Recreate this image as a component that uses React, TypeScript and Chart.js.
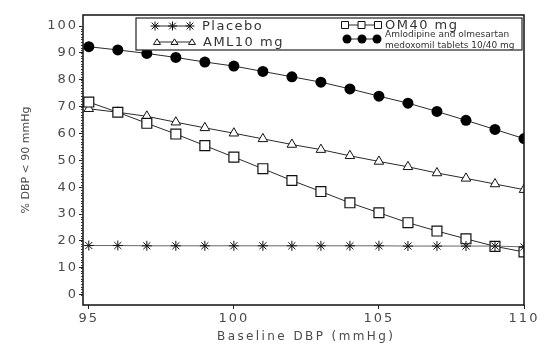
import React, { useEffect, useRef } from 'react';
import { Chart, registerables } from 'chart.js';

Chart.register(...registerables);

const baselineDBP = [95, 96, 97, 98, 99, 100, 101, 102, 103, 104, 105, 106, 107, 108, 109, 110];
const placeboPct = [18.3, 18.3, 18.2, 18.2, 18.2, 18.2, 18.2, 18.2, 18.2, 18.2, 18.2, 18.1, 18.1, 18.1, 18.1, 17.8];
const om40Pct = [71.7, 67.9, 63.8, 59.8, 55.5, 51.2, 46.9, 42.5, 38.4, 34.2, 30.5, 26.8, 23.7, 20.8, 18.0, 15.9];
const aml10Pct = [69.2, 67.9, 66.4, 64.2, 62.1, 60.1, 58.0, 55.9, 54.0, 51.7, 49.6, 47.6, 45.3, 43.3, 41.2, 39.1];
const comboPct = [92.3, 91.1, 89.8, 88.3, 86.6, 85.1, 83.1, 81.1, 79.1, 76.6, 73.9, 71.3, 68.2, 64.9, 61.5, 58.1];

const xTickValues = [95, 100, 105, 110];
const yTickValues = [0, 10, 20, 30, 40, 50, 60, 70, 80, 90, 100];

const seriesNames = ['Placebo', 'OM40 mg', 'AML10 mg', 'Amlodipine and olmesartan medoxomil tablets 10/40 mg'];
const comboLegendLines = ['Amlodipine and olmesartan', 'medoxomil tablets 10/40 mg'];
const xTitle = 'Baseline DBP (mmHg)';
const yTitle = '% DBP < 90 mmHg';

const FONT = "'DejaVu Sans', 'Liberation Sans', sans-serif";
const LINE = '#2a2a2a';
const TEXT = '#4a4a4a';

function toPoints(values: number[]) {
  return baselineDBP.map((x, i) => ({ x, y: values[i] }));
}

// wrap a scale's tick-label drawing so the labels get letter spacing
function patchSpacing(s: any, labelSp: string) {
  if (s.__patched) return;
  s.__patched = true;
  const origLabels = s.drawLabels.bind(s);
  s.drawLabels = (area: any) => {
    const c = s.ctx; const prev = c.letterSpacing; c.letterSpacing = labelSp; origLabels(area); c.letterSpacing = prev;
  };
}

function drawMarker(ctx: CanvasRenderingContext2D, style: string, x: number, y: number, r: number) {
  ctx.save();
  ctx.lineWidth = 1;
  ctx.strokeStyle = '#111';
  ctx.beginPath();
  if (style === 'star') {
    ctx.moveTo(x - r, y); ctx.lineTo(x + r, y);
    ctx.moveTo(x, y - r); ctx.lineTo(x, y + r);
    const d = r * 0.75;
    ctx.moveTo(x - d, y - d); ctx.lineTo(x + d, y + d);
    ctx.moveTo(x - d, y + d); ctx.lineTo(x + d, y - d);
    ctx.stroke();
  } else if (style === 'rect') {
    ctx.fillStyle = '#fff';
    ctx.rect(x - r, y - r, 2 * r, 2 * r);
    ctx.fill(); ctx.stroke();
  } else if (style === 'triangle') {
    ctx.fillStyle = '#fff';
    ctx.moveTo(x - r, y + r * 0.7);
    ctx.lineTo(x, y - r * 0.9);
    ctx.lineTo(x + r, y + r * 0.7);
    ctx.closePath();
    ctx.fill(); ctx.stroke();
  } else {
    ctx.fillStyle = '#000';
    ctx.arc(x, y, r, 0, Math.PI * 2);
    ctx.fill();
  }
  ctx.restore();
}

const decorPlugin = {
  id: 'decor',
  afterDraw(chart: any) {
    const ctx: any = chart.ctx;
    const { left, right, top, bottom } = chart.chartArea;
    const yScale = chart.scales.y;
    ctx.save();
    // frame
    ctx.strokeStyle = '#111';
    ctx.lineWidth = 1.5;
    ctx.strokeRect(left, top, right - left, bottom - top);
    // minor ticks on y
    ctx.lineWidth = 1;
    ctx.strokeStyle = '#333';
    ctx.beginPath();
    for (let v = 0; v <= 100; v += 1) {
      const py = Math.round(yScale.getPixelForValue(v)) + 0.5;
      ctx.moveTo(left - 2, py);
      ctx.lineTo(left, py);
    }
    ctx.stroke();

    // x axis title, spread to the reference's width
    ctx.font = `12px ${FONT}`;
    ctx.letterSpacing = '0px';
    const w0 = ctx.measureText(xTitle).width;
    const targetW = 176;
    const sp = Math.max(0, Math.min(3, (targetW - w0) / (xTitle.length - 1)));
    ctx.letterSpacing = `${sp}px`;
    ctx.fillStyle = TEXT;
    ctx.textAlign = 'left';
    ctx.textBaseline = 'middle';
    ctx.fillText(xTitle, (left + right) / 2 + 1.5 - targetW / 2, 337);
    ctx.letterSpacing = '0px';

    // legend box
    const bx = 136, by = 18, bw = 386, bh = 32;
    ctx.fillStyle = '#fff';
    ctx.fillRect(bx, by, bw, bh);
    ctx.strokeStyle = '#222';
    ctx.lineWidth = 1.2;
    ctx.strokeRect(bx, by, bw, bh);

    const entries = [
      { style: 'star', x0: 155, step: 17.5, y: 26, r: 4.5, text: [seriesNames[0]], tx: 202, size: 13, sp: '1.5px' },
      { style: 'triangle', x0: 157, step: 17.5, y: 42, r: 3.5, text: [seriesNames[2]], tx: 203, size: 13, sp: '1.5px' },
      { style: 'rect', x0: 345, step: 16.5, y: 25, r: 3.5, text: [seriesNames[1]], tx: 385, size: 13, sp: '1.5px' },
      { style: 'circle', x0: 347, step: 15, y: 39, r: 4.5, text: comboLegendLines, tx: 385, size: 9, sp: '0px' },
    ];
    for (const e of entries) {
      const xs = [e.x0, e.x0 + e.step, e.x0 + 2 * e.step];
      ctx.strokeStyle = LINE;
      ctx.lineWidth = 1;
      ctx.beginPath();
      ctx.moveTo(xs[0], e.y); ctx.lineTo(xs[2], e.y);
      ctx.stroke();
      for (const x of xs) drawMarker(ctx, e.style, x, e.y, e.r);
      ctx.fillStyle = '#333';
      ctx.font = `${e.size}px ${FONT}`;
      ctx.letterSpacing = e.sp;
      ctx.textBaseline = 'middle';
      ctx.textAlign = 'left';
      if (e.text.length === 1) {
        ctx.fillText(e.text[0], e.tx, e.y + 1);
      } else {
        ctx.fillText(e.text[0], e.tx, 35);
        ctx.fillText(e.text[1], e.tx, 45.5);
      }
    }
    ctx.letterSpacing = '0px';
    ctx.restore();
  },
};

export default function App() {
  const canvasRef = useRef<HTMLCanvasElement | null>(null);

  useEffect(() => {
    document.body.style.margin = '0';
    const canvas = canvasRef.current!;
    const lineDs = (label: string, values: number[], style: string, radius: number, bg: string, borderW: number, lineColor: string) => ({
      label,
      data: toPoints(values),
      borderColor: lineColor,
      borderWidth: 1,
      pointStyle: style,
      pointRadius: radius,
      pointBackgroundColor: bg,
      pointBorderColor: '#111',
      pointBorderWidth: borderW,
      tension: 0,
      fill: false,
    });
    const chart = new Chart(canvas, {
      type: 'line',
      data: {
        datasets: [
          lineDs(seriesNames[0], placeboPct, 'star', 5, '#111', 1, '#666'),
          lineDs(seriesNames[1], om40Pct, 'rect', 7, '#fff', 1.2, LINE),
          lineDs(seriesNames[2], aml10Pct, 'triangle', 5.5, '#fff', 1, LINE),
          lineDs(seriesNames[3], comboPct, 'circle', 5.5, '#000', 0, LINE),
        ],
      },
      plugins: [decorPlugin],
      options: {
        animation: false,
        responsive: false,
        devicePixelRatio: 1,
        layout: { padding: { top: 15, right: 36, left: 0, bottom: 0 } },
        plugins: { legend: { display: false }, tooltip: { enabled: false } },
        scales: {
          x: {
            type: 'linear',
            min: 94.8,
            max: 110,
            afterBuildTicks: (s: any) => { s.ticks = xTickValues.map((v) => ({ value: v })); },
            afterFit: (s: any) => { s.height = 47; patchSpacing(s, '2px'); },
            grid: { display: true, drawOnChartArea: false, tickLength: 4, color: '#222' },
            border: { display: false },
            ticks: { color: TEXT, font: { family: FONT, size: 13 }, padding: 2, maxRotation: 0, autoSkip: false },
            title: { display: false, text: xTitle },
          },
          y: {
            type: 'linear',
            min: -3.83,
            max: 104.1,
            afterBuildTicks: (s: any) => { s.ticks = yTickValues.map((v) => ({ value: v })); },
            afterFit: (s: any) => { s.width = 83; patchSpacing(s, '2px'); },
            grid: { display: true, drawOnChartArea: false, tickLength: 4, color: '#222' },
            border: { display: false },
            ticks: { color: TEXT, font: { family: FONT, size: 13 }, padding: 1, autoSkip: false },
            title: { display: true, text: yTitle, color: TEXT, font: { family: FONT, size: 11 }, padding: { top: 20, bottom: 0 } },
          },
        },
      },
    } as any);
    return () => chart.destroy();
  }, []);

  return (
    <div style={{ width: 560, height: 352, background: '#fff' }}>
      <canvas ref={canvasRef} width={560} height={352} style={{ display: 'block' }} />
    </div>
  );
}
